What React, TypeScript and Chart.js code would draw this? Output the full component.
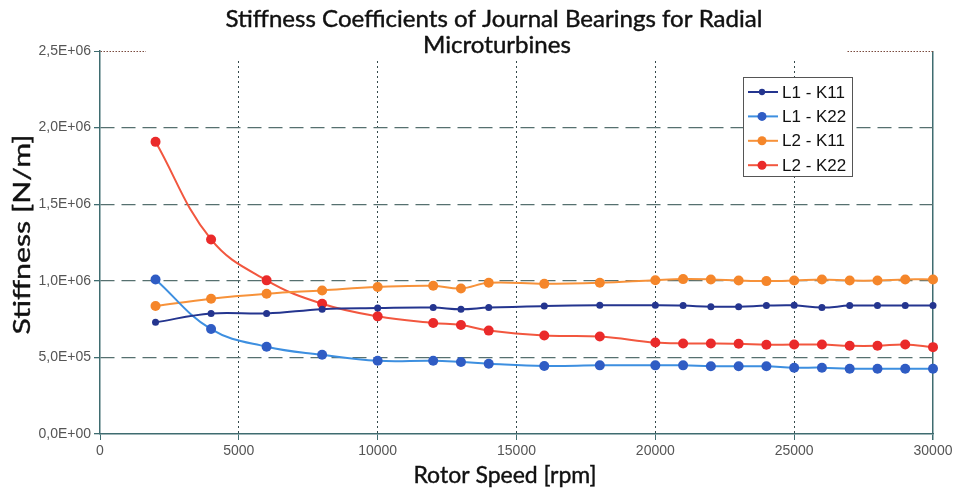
import React, { useEffect, useRef } from "react";
import { Chart, registerables } from "chart.js";

Chart.register(...registerables);

const titleLines = ["Stiffness Coefficients of Journal Bearings for Radial", "Microturbines"];
const xTitle = "Rotor Speed [rpm]";
const yTitle = "Stiffness [N/m]";

const speeds = [2000, 4000, 6000, 8000, 10000, 12000, 13000, 14000, 16000, 18000, 20000, 21000, 22000, 23000, 24000, 25000, 26000, 27000, 28000, 29000, 30000];
const l1k11 = [729000, 787000, 787000, 815000, 822000, 825000, 814000, 825000, 835000, 840000, 840000, 838000, 831000, 831000, 838000, 840000, 825000, 838000, 838000, 838000, 838000];
const l1k22 = [1009000, 685000, 570000, 517000, 478000, 478000, 470000, 459000, 444000, 448000, 448000, 448000, 442000, 442000, 442000, 433000, 433000, 426000, 426000, 426000, 426000];
const l2k11 = [835000, 883000, 915000, 937000, 959000, 968000, 950000, 987000, 980000, 987000, 1004000, 1011000, 1009000, 1002000, 998000, 1002000, 1009000, 1002000, 1002000, 1009000, 1009000];
const l2k22 = [1907000, 1270000, 1003000, 850000, 768000, 725000, 712000, 675000, 643000, 636000, 597000, 591000, 591000, 589000, 582000, 584000, 584000, 576000, 576000, 584000, 567000];

const seriesLabels = ["L1 - K11", "L1 - K22", "L2 - K11", "L2 - K22"];
const lineColors = ["#24358f", "#3d8fe0", "#f7923a", "#f2573f"];
const pointColors = ["#24358f", "#2f5cc4", "#f5862a", "#ea2a2a"];
const pointSizes = [3.5, 5, 5, 5];

const yMax = 2500000;
const yStep = 500000;
const xMax = 30000;
const xStep = 5000;

const AXIS = "#3f6c70";
const GRID = "#56706f";
const TICKFONT = "'Liberation Sans', Arial, sans-serif";
const TITLEFONT = "Lato, 'Open Sans', sans-serif";

function fmtSci(v: number): string {
  if (v === 0) return "0,0E+00";
  const e = Math.floor(Math.log10(v) + 1e-9);
  const m = v / Math.pow(10, e);
  return m.toFixed(1).replace(".", ",") + "E+" + String(e).padStart(2, "0");
}

function heavyText(ctx: CanvasRenderingContext2D, text: string, x: number, y: number) {
  ctx.fillText(text, x, y);
  ctx.strokeText(text, x, y);
}

const decor = {
  id: "decor",
  afterDraw(chart: any) {
    const ctx = chart.ctx as CanvasRenderingContext2D;
    const area = chart.chartArea;
    ctx.save();
    // title backdrop
    ctx.fillStyle = "#ffffff";
    ctx.fillRect(146, 0, 701, 61);
    ctx.fillStyle = "#111111";
    ctx.strokeStyle = "#111111";
    ctx.lineWidth = 0.4;
    ctx.textAlign = "center";
    ctx.textBaseline = "middle";
    ctx.font = "22px " + TITLEFONT;
    const w1 = ctx.measureText(titleLines[0]).width;
    ctx.save();
    ctx.translate(494, 20);
    ctx.scale(537 / w1, 1.05);
    heavyText(ctx, titleLines[0], 0, 0);
    ctx.restore();
    ctx.save();
    ctx.translate(497, 46);
    ctx.scale(537 / w1, 1.05);
    heavyText(ctx, titleLines[1], 0, 0);
    ctx.restore();

    // x title
    ctx.font = "23px " + TITLEFONT;
    heavyText(ctx, xTitle, 505, 476);

    // y title
    ctx.font = "23px " + TITLEFONT;
    const wy = ctx.measureText(yTitle).width;
    ctx.save();
    ctx.translate(23, (area.top + area.bottom) / 2 - 8);
    ctx.rotate(-Math.PI / 2);
    ctx.scale(200 / wy, 1);
    heavyText(ctx, yTitle, 0, 0);
    ctx.restore();

    // legend
    const bx = 743, by = 77, bw = 109, bh = 99;
    ctx.fillStyle = "#ffffff";
    ctx.fillRect(bx, by, bw, bh);
    ctx.strokeStyle = "#555555";
    ctx.lineWidth = 1;
    ctx.strokeRect(bx + 0.5, by + 0.5, bw, bh);
    ctx.font = "17px 'Liberation Sans', Arial, sans-serif";
    ctx.textAlign = "left";
    chart.data.datasets.forEach((ds: any, i: number) => {
      const y = 92 + i * 24.4;
      ctx.strokeStyle = ds.borderColor;
      ctx.lineWidth = 2;
      ctx.beginPath();
      ctx.moveTo(748, y);
      ctx.lineTo(778, y);
      ctx.stroke();
      ctx.fillStyle = ds.pointBackgroundColor;
      ctx.beginPath();
      ctx.arc(762, y, ds.pointRadius * 0.9, 0, Math.PI * 2);
      ctx.fill();
      ctx.fillStyle = "#111111";
      ctx.fillText(ds.label, 782, y + 1);
    });
    ctx.restore();
  },
};

export default function App() {
  const ref = useRef<HTMLCanvasElement | null>(null);
  useEffect(() => {
    if (!ref.current) return;
    const seriesValues = [l1k11, l1k22, l2k11, l2k22];
    const chart = new Chart(ref.current, {
      type: "line",
      data: {
        datasets: seriesValues.map((vals, i) => ({
          label: seriesLabels[i],
          data: speeds.map((s, j) => ({ x: s, y: vals[j] })),
          borderColor: lineColors[i],
          backgroundColor: pointColors[i],
          pointBackgroundColor: pointColors[i],
          pointBorderColor: pointColors[i],
          pointRadius: pointSizes[i],
          pointBorderWidth: 0,
          borderWidth: 2,
          tension: 0.4,
          fill: false,
          clip: 10,
        })),
      },
      options: {
        animation: false,
        responsive: false,
        devicePixelRatio: 1,
        layout: { padding: { top: 51, right: 20, left: 0, bottom: 0 } },
        plugins: { legend: { display: false }, title: { display: false }, tooltip: { enabled: false } },
        scales: {
          x: {
            type: "linear",
            min: 0,
            max: xMax,
            afterFit: (s: any) => { s.height = 58; s.paddingRight = 0; s.paddingLeft = 0; },
            ticks: {
              stepSize: xStep,
              padding: 3,
              color: "#555555",
              font: { family: TICKFONT, size: 14 },
              maxRotation: 0,
              callback: (v: any) => String(v),
            },
            grid: {
              color: (c: any) => (c.tick && c.tick.value === 0 ? "rgba(0,0,0,0)" : c.tick && c.tick.value === xMax ? AXIS : "#34494b"),
              lineWidth: (c: any) => (c.tick && c.tick.value === xMax ? 1.5 : 1),
              tickColor: AXIS,
              tickLength: 6,
              drawTicks: true,
            },
            border: {
              display: true,
              color: AXIS,
              width: 1.5,
              dash: (c: any) => (c.tick && c.tick.value !== xMax ? [2, 3] : []),
            },
          },
          y: {
            type: "linear",
            min: 0,
            max: yMax,
            afterFit: (s: any) => { s.width = 100; },
            ticks: {
              stepSize: yStep,
              padding: 3,
              color: "#555555",
              font: { family: TICKFONT, size: 14 },
              callback: (v: any) => fmtSci(Number(v)),
            },
            grid: {
              color: (c: any) => (c.tick && c.tick.value === 0 ? "rgba(0,0,0,0)" : c.tick && c.tick.value === yMax ? "#7a4a3e" : GRID),
              lineWidth: (c: any) => (c.tick && c.tick.value === yMax ? 1 : 1.3),
              tickColor: AXIS,
              tickLength: 6,
              drawTicks: true,
            },
            border: {
              display: true,
              color: AXIS,
              width: 1.5,
              dash: (c: any) => (c.tick && c.tick.value === yMax ? [1.5, 1.5] : [14, 7]),
            },
          },
        },
      },
      plugins: [decor],
    });
    return () => chart.destroy();
  }, []);
  return (
    <div style={{ position: "absolute", left: 0, top: 0, width: 953, height: 492, background: "#fff" }}>
      <canvas ref={ref} width={953} height={492} style={{ display: "block", width: 953, height: 492 }} />
    </div>
  );
}
